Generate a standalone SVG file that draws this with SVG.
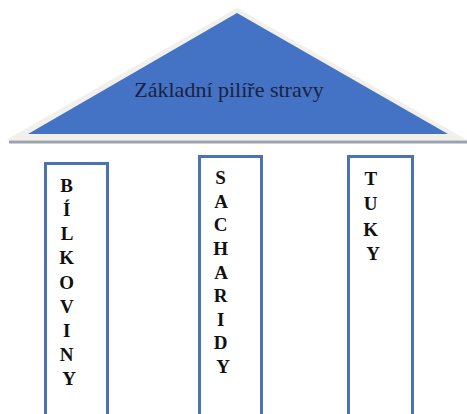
<svg xmlns="http://www.w3.org/2000/svg" width="467" height="414" viewBox="0 0 467 414">
  <style>
    .pillar { fill: #ffffff; stroke: #4a72b4; stroke-width: 3; }
    .letters { font-family: "Liberation Serif", "Times New Roman", serif; font-weight: bold; font-size: 19px; fill: #111111; text-anchor: middle; }
    .roof-label { font-family: "Liberation Serif", "Times New Roman", serif; font-size: 22px; fill: #1c2140; text-anchor: middle; }
  </style>
  <rect width="467" height="414" fill="#ffffff"/>

  <!-- roof -->
  <g id="roof">
    <polygon points="237,8 6,140 467,140" fill="#f1f0ea"/>
    <rect x="9" y="140.5" width="458" height="3" fill="#9aa2ae"/>
    <polygon points="237,13 28,134 448,134" fill="#4472c4"/>
    <text class="roof-label" x="229" y="97">Základní pilíře stravy</text>
  </g>

  <!-- left pillar -->
  <g id="bilkoviny">
    <rect class="pillar" x="45.5" y="163.5" width="62" height="260"/>
    <text class="letters">
      <tspan x="69" y="192">B</tspan>
      <tspan x="69" y="216">Í</tspan>
      <tspan x="69" y="240">L</tspan>
      <tspan x="69" y="264">K</tspan>
      <tspan x="69" y="289">O</tspan>
      <tspan x="69" y="313">V</tspan>
      <tspan x="69" y="337">I</tspan>
      <tspan x="69" y="361">N</tspan>
      <tspan x="69" y="385">Y</tspan>
    </text>
  </g>

  <!-- middle pillar -->
  <g id="sacharidy">
    <rect class="pillar" x="199.5" y="156.5" width="62" height="270"/>
    <text class="letters">
      <tspan x="223" y="184">S</tspan>
      <tspan x="223" y="208">A</tspan>
      <tspan x="223" y="231">C</tspan>
      <tspan x="223" y="255">H</tspan>
      <tspan x="223" y="279">A</tspan>
      <tspan x="223" y="302">R</tspan>
      <tspan x="223" y="326">I</tspan>
      <tspan x="223" y="349">D</tspan>
      <tspan x="223" y="373">Y</tspan>
    </text>
  </g>

  <!-- right pillar -->
  <g id="tuky">
    <rect class="pillar" x="348.5" y="156.5" width="64" height="270"/>
    <text class="letters">
      <tspan x="373" y="185">T</tspan>
      <tspan x="373" y="210">U</tspan>
      <tspan x="373" y="236">K</tspan>
      <tspan x="373" y="260">Y</tspan>
    </text>
  </g>

  <g id="connectors"/>
</svg>
